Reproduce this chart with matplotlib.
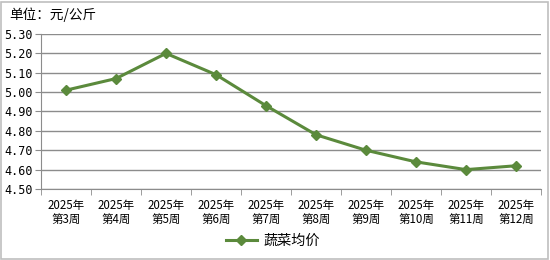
import matplotlib
matplotlib.use("Agg")
import matplotlib.pyplot as plt
import numpy as np

plt.rcParams['font.family'] = ['Noto Sans CJK SC', 'DejaVu Sans']

# data
weeks = ['2025年\n第3周', '2025年\n第4周', '2025年\n第5周', '2025年\n第6周', '2025年\n第7周',
         '2025年\n第8周', '2025年\n第9周', '2025年\n第10周', '2025年\n第11周', '2025年\n第12周']
prices = [5.01, 5.07, 5.20, 5.09, 4.93, 4.78, 4.70, 4.64, 4.60, 4.62]
yticks = [4.50, 4.60, 4.70, 4.80, 4.90, 5.00, 5.10, 5.20, 5.30]

green = '#5b8a3c'
grid_gray = '#8c8c8c'

fig = plt.figure(figsize=(5.5, 2.6), dpi=100)
ax = fig.add_axes([41/550, 1 - 189/260, 500/550, 155/260])

x = np.arange(len(weeks))
ax.plot(x, prices, color=green, linewidth=2.2, marker='D', markersize=5.5,
        label='蔬菜均价', zorder=3)

ax.set_xlim(-0.5, len(weeks) - 0.5)
ax.set_ylim(4.50, 5.30)
ax.set_yticks(yticks)
ax.set_yticklabels([f'{v:.2f}' for v in yticks], fontsize=8.5, family='DejaVu Sans Mono')
ax.set_xticks(x)
ax.set_xticklabels(weeks, fontsize=8.3, linespacing=1.15)
ax.set_xticks(np.arange(-0.5, len(weeks)), minor=True)
ax.tick_params(axis='x', which='major', length=0, pad=7)
ax.tick_params(axis='x', which='minor', length=4, color=grid_gray, direction='out')
ax.tick_params(axis='y', length=4, color=grid_gray, pad=2)

ax.grid(axis='y', color=grid_gray, linewidth=1)
ax.set_axisbelow(True)
for side in ['top', 'right']:
    ax.spines[side].set_visible(False)
for side in ['left', 'bottom']:
    ax.spines[side].set_color(grid_gray)

fig.text(9/550, 1 - 15/260, '单位：元/公斤', fontsize=9.8, va='center', ha='left')

ax.legend(loc='center', bbox_to_anchor=(0.464, -0.335), frameon=False, fontsize=10.2,
          handlelength=2.2, handletextpad=0.5)

# outer border
fig.patches.append(plt.Rectangle((0.002, 0.004), 0.995, 0.99, transform=fig.transFigure,
                                 fill=False, edgecolor='#bfbfbf', linewidth=1.2))

fig.savefig('out.png', dpi=100)
